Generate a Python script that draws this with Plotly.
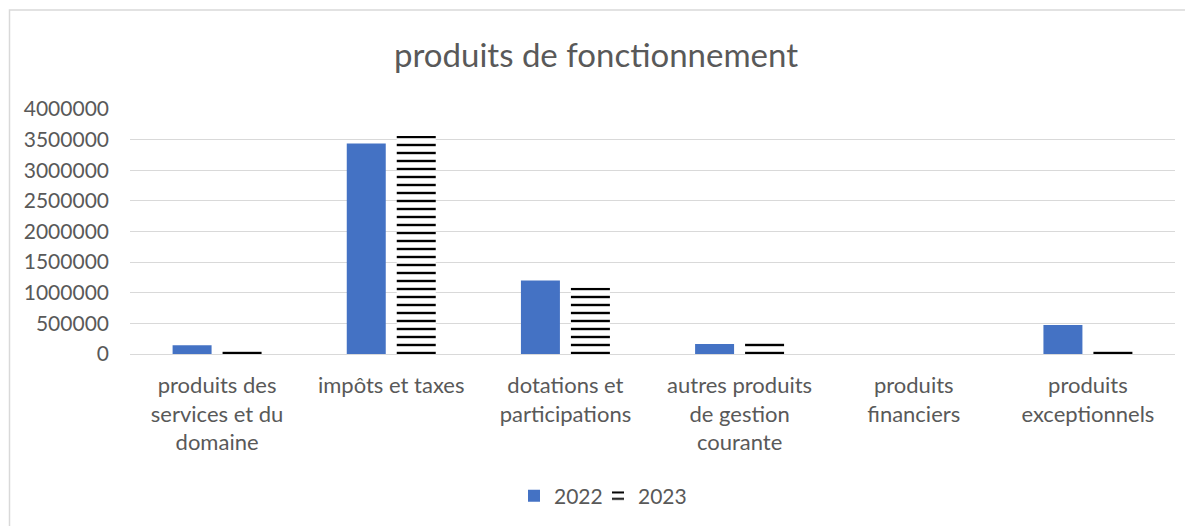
import plotly.graph_objects as go

categories = [
    "produits des services et du domaine",
    "impôts et taxes",
    "dotations et participations",
    "autres produits de gestion courante",
    "produits financiers",
    "produits exceptionnels",
]
tick_labels = [
    "produits des<br>services et du<br>domaine",
    "impôts et taxes",
    "dotations et<br>participations",
    "autres produits<br>de gestion<br>courante",
    "produits<br>financiers",
    "produits<br>exceptionnels",
]
values_2022 = [141000, 3435000, 1200000, 163000, 0, 473000]
values_2023 = [95000, 3560000, 1080000, 190000, 0, 90000]
y_ticks = [0, 500000, 1000000, 1500000, 2000000, 2500000, 3000000, 3500000, 4000000]

FONT = "Lato"
GREY = "#595959"

fig = go.Figure()
fig.add_trace(go.Bar(
    x=categories, y=values_2022, name="2022", legend="legend",
    marker=dict(color="#4472C4", line=dict(width=0)),
))
fig.add_trace(go.Bar(
    x=categories, y=values_2023, name="2023", legend="legend2",
    marker=dict(color="black", line=dict(width=0),
                pattern=dict(shape="-", fgcolor="#000000", bgcolor="#ffffff",
                             fgopacity=1, size=8, solidity=0.3)),
))

OFF = 8  # page body margin
PW, PH = 1193, 526
W, H = PW - OFF, PH - OFF
# plot area in page pixels
PL, PR, PT, PB = 130, 1175, 109, 354
L = PL - OFF
R = W - (PR - OFF)
T = PT - OFF
B = H - (PB - OFF)
pw = PR - PL
ph = PB - PT

def px(x):
    return (x - PL) / pw

def py(y):
    return (PB - y) / ph

leg_common = dict(orientation="h", xanchor="left", yanchor="middle", y=py(496),
                  font=dict(family=FONT, size=21, color=GREY),
                  bgcolor="rgba(0,0,0,0)", borderwidth=0)

fig.update_layout(
    width=W, height=H,
    margin=dict(l=L, r=R, t=T, b=B, autoexpand=False),
    paper_bgcolor="white", plot_bgcolor="white",
    barmode="group", bargap=0.426, bargroupgap=0.22,
    font=dict(family=FONT, color=GREY, size=21),
    title=dict(text="produits de fonctionnement", x=(596 - OFF) / W, xref="container",
               xanchor="center", y=1 - (55 - OFF) / H, yref="container", yanchor="middle",
               font=dict(family=FONT, size=33, color=GREY)),
    showlegend=True,
    legend=dict(x=px(514), **leg_common),
    legend2=dict(x=px(598), **leg_common),
    xaxis=dict(tickmode="array", tickvals=categories, ticktext=tick_labels,
               showgrid=False, showline=False, ticks="", ticklabelstandoff=16,
               tickfont=dict(family=FONT, size=22, color=GREY)),
    yaxis=dict(range=[0, 4000000], tickmode="array", tickvals=y_ticks,
               ticktext=[str(v) for v in y_ticks],
               showgrid=True, gridcolor="#d9d9d9", gridwidth=1,
               zeroline=True, zerolinecolor="#d9d9d9", zerolinewidth=1,
               showline=False, ticks="", ticklabelstandoff=20,
               tickfont=dict(family=FONT, size=21, color=GREY)),
    shapes=[dict(type="rect", xref="paper", yref="paper",
                 x0=px(9.5), x1=px(1215), y0=py(545), y1=py(10),
                 line=dict(color="#d9d9d9", width=1.5), layer="below")],
)

fig.write_html("out.html")
